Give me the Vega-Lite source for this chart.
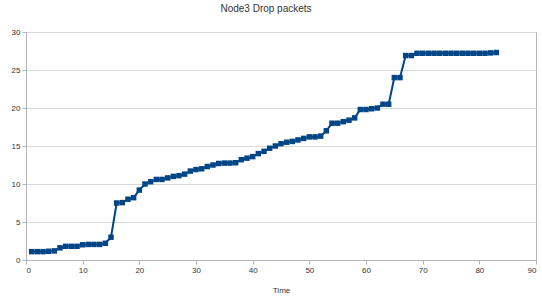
{
  "$schema": "https://vega.github.io/schema/vega-lite/v6.json",
  "autosize": "none",
  "width": 510,
  "height": 228,
  "padding": {"left": 26, "top": 32, "right": 6, "bottom": 38},
  "background": "white",
  "title": {"text": "Node3 Drop packets", "font": "Liberation Sans", "fontSize": 10, "fontWeight": "normal", "color": "#333333", "offset": 14, "dx": -15},
  "config": {
    "view": {"stroke": "#b3b3b3", "strokeWidth": 1},
    "axis": {"labelFont": "Liberation Sans", "titleFont": "Liberation Sans", "labelFontSize": 8, "titleFontSize": 8, "titleFontWeight": "normal", "labelColor": "#333333", "titleColor": "#333333", "domainColor": "#b3b3b3", "tickColor": "#b3b3b3", "gridColor": "#d9d9d9", "tickSize": 4}
  },
  "data": {"values": [
    {"t":1,"v":1.1},{"t":2,"v":1.1},{"t":3,"v":1.1},{"t":4,"v":1.15},{"t":5,"v":1.2},
    {"t":6,"v":1.6},{"t":7,"v":1.8},{"t":8,"v":1.8},{"t":9,"v":1.8},{"t":10,"v":2.0},
    {"t":11,"v":2.05},{"t":12,"v":2.05},{"t":13,"v":2.05},{"t":14,"v":2.2},{"t":15,"v":3.0},
    {"t":16,"v":7.5},{"t":17,"v":7.55},{"t":18,"v":8.0},{"t":19,"v":8.2},{"t":20,"v":9.2},
    {"t":21,"v":10.0},{"t":22,"v":10.3},{"t":23,"v":10.6},{"t":24,"v":10.6},{"t":25,"v":10.8},
    {"t":26,"v":11.0},{"t":27,"v":11.1},{"t":28,"v":11.3},{"t":29,"v":11.7},{"t":30,"v":11.9},
    {"t":31,"v":12.0},{"t":32,"v":12.3},{"t":33,"v":12.5},{"t":34,"v":12.7},{"t":35,"v":12.75},
    {"t":36,"v":12.75},{"t":37,"v":12.8},{"t":38,"v":13.2},{"t":39,"v":13.4},{"t":40,"v":13.6},
    {"t":41,"v":14.0},{"t":42,"v":14.3},{"t":43,"v":14.7},{"t":44,"v":15.0},{"t":45,"v":15.3},
    {"t":46,"v":15.5},{"t":47,"v":15.6},{"t":48,"v":15.8},{"t":49,"v":16.0},{"t":50,"v":16.2},
    {"t":51,"v":16.2},{"t":52,"v":16.3},{"t":53,"v":17.0},{"t":54,"v":18.0},{"t":55,"v":18.0},
    {"t":56,"v":18.2},{"t":57,"v":18.4},{"t":58,"v":18.7},{"t":59,"v":19.8},{"t":60,"v":19.8},
    {"t":61,"v":19.9},{"t":62,"v":20.0},{"t":63,"v":20.5},{"t":64,"v":20.5},{"t":65,"v":24.0},
    {"t":66,"v":24.0},{"t":67,"v":26.9},{"t":68,"v":26.9},{"t":69,"v":27.2},{"t":70,"v":27.2},
    {"t":71,"v":27.2},{"t":72,"v":27.2},{"t":73,"v":27.2},{"t":74,"v":27.2},{"t":75,"v":27.2},
    {"t":76,"v":27.2},{"t":77,"v":27.2},{"t":78,"v":27.2},{"t":79,"v":27.2},{"t":80,"v":27.2},
    {"t":81,"v":27.2},{"t":82,"v":27.25},{"t":83,"v":27.3}
  ]},
  "encoding": {
    "x": {"field": "t", "type": "quantitative", "title": "Time", "scale": {"domain": [0, 90], "nice": false}, "axis": {"values": [0,10,20,30,40,50,60,70,80,90], "grid": false, "titlePadding": 12}},
    "y": {"field": "v", "type": "quantitative", "title": null, "scale": {"domain": [0, 30], "nice": false}, "axis": {"values": [0,5,10,15,20,25,30], "grid": true}}
  },
  "layer": [
    {"mark": {"type": "line", "color": "#004586", "strokeWidth": 2}},
    {"mark": {"type": "point", "shape": "square", "filled": true, "color": "#004586", "opacity": 1, "size": 30}}
  ]
}
